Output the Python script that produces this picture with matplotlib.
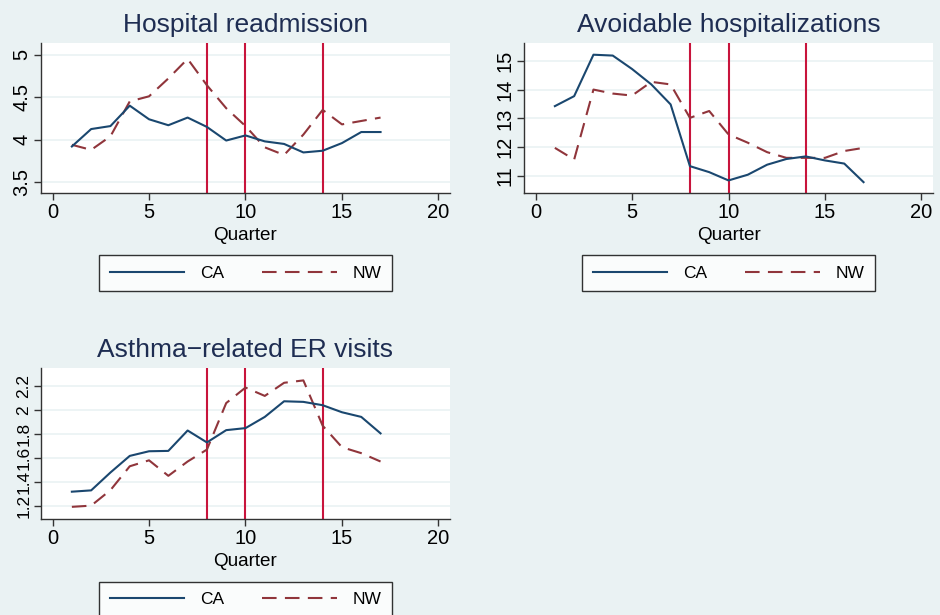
import matplotlib
matplotlib.use("Agg")
import matplotlib.pyplot as plt

plt.rcParams['font.family'] = ['Liberation Sans', 'DejaVu Sans']

quarters = list(range(1, 18))

readm_ca = [3.92, 4.125, 4.16, 4.40, 4.24, 4.17, 4.26, 4.15, 3.99, 4.05, 3.98, 3.95, 3.85, 3.87, 3.96, 4.09, 4.09]
readm_nw = [3.94, 3.88, 4.04, 4.45, 4.51, 4.72, 4.95, 4.64, 4.37, 4.16, 3.91, 3.82, 4.06, 4.35, 4.18, 4.22, 4.26]

avoid_ca = [13.43, 13.78, 15.23, 15.20, 14.73, 14.19, 13.49, 11.33, 11.12, 10.83, 11.03, 11.38, 11.58, 11.67, 11.53, 11.42, 10.77]
avoid_nw = [11.97, 11.56, 14.01, 13.87, 13.80, 14.28, 14.19, 13.02, 13.26, 12.44, 12.15, 11.82, 11.62, 11.62, 11.62, 11.86, 11.97]

asthma_ca = [1.317, 1.328, 1.478, 1.617, 1.656, 1.659, 1.83, 1.73, 1.833, 1.85, 1.944, 2.075, 2.07, 2.042, 1.983, 1.944, 1.806]
asthma_nw = [1.19, 1.20, 1.33, 1.53, 1.58, 1.45, 1.57, 1.67, 2.06, 2.19, 2.12, 2.23, 2.25, 1.87, 1.69, 1.64, 1.57]

ref_quarters = [8, 10, 14]
x_ticks = [0, 5, 10, 15, 20]
readm_yticks = [3.5, 4, 4.5, 5]
readm_ylabels = ['3.5', '4', '4.5', '5']
avoid_yticks = [11, 12, 13, 14, 15]
avoid_ylabels = ['11', '12', '13', '14', '15']
asthma_yticks = [1.2, 1.4, 1.6, 1.8, 2.0, 2.2]
asthma_ylabels = ['1.2', '1.4', '1.6', '1.8', '2', '2.2']

BG = '#eaf2f3'
CA_COLOR = '#1a476f'
NW_COLOR = '#90353b'
REF_COLOR = '#c8143c'
TITLE_COLOR = '#1e2d52'

W, H = 940, 615
fig = plt.figure(figsize=(W / 100, H / 100), dpi=100, facecolor=BG)

def add_ax(l, t, r, b):
    return fig.add_axes([l / W, 1 - b / H, (r - l) / W, (b - t) / H])

panels = [
    (add_ax(41, 43, 450, 193), "Hospital readmission", readm_ca, readm_nw,
     readm_yticks, readm_ylabels, (3.373, 5.137), 14.5),
    (add_ax(524, 43, 933, 193), "Avoidable hospitalizations", avoid_ca, avoid_nw,
     avoid_yticks, avoid_ylabels, (10.39, 15.64), 14.5),
    (add_ax(41, 368, 450, 519), "Asthma\u2212related ER visits", asthma_ca, asthma_nw,
     asthma_yticks, asthma_ylabels, (1.088, 2.354), 12.4),
]

for ax, title, ca, nw, yt, yl, ylim, ysize in panels:
    ax.set_facecolor('white')
    for yv in yt:
        ax.axhline(yv, color=BG, lw=1.2, zorder=0)
    for q in ref_quarters:
        ax.axvline(q, color=REF_COLOR, lw=1.5, zorder=1)
    ax.plot(quarters, ca, color=CA_COLOR, lw=1.5, zorder=3, label='CA')
    ax.plot(quarters, nw, color=NW_COLOR, lw=1.5, zorder=2, dashes=(7, 4), label='NW')
    ax.set_xlim(-0.6, 20.6)
    ax.set_ylim(*ylim)
    ax.set_xticks(x_ticks)
    ax.set_xticklabels([str(v) for v in x_ticks])
    ax.set_yticks(yt)
    ax.set_yticklabels(yl, rotation=90, va='center')
    ax.tick_params(axis='both', labelsize=14.5, color='#333333', length=5, width=1, pad=2)
    ax.tick_params(axis='y', labelsize=ysize)
    for s in ['top', 'right']:
        ax.spines[s].set_visible(False)
    for s in ['left', 'bottom']:
        ax.spines[s].set_color('#333333')
        ax.spines[s].set_linewidth(1)
    ax.set_xlabel('Quarter', fontsize=13.6, labelpad=4)
    ax.set_title(title, fontsize=19, color=TITLE_COLOR, pad=8)
    lg = ax.legend(loc='center', bbox_to_anchor=(0.5, -0.535), ncol=2,
                   fontsize=12.5, frameon=True, fancybox=False, edgecolor='black',
                   handlelength=4.3, handletextpad=0.9, columnspacing=2.2,
                   borderpad=0.6, borderaxespad=0)
    lg.get_frame().set_linewidth(1)
    lg.get_frame().set_facecolor('white')

fig.savefig('out.png', dpi=100, facecolor=BG)
